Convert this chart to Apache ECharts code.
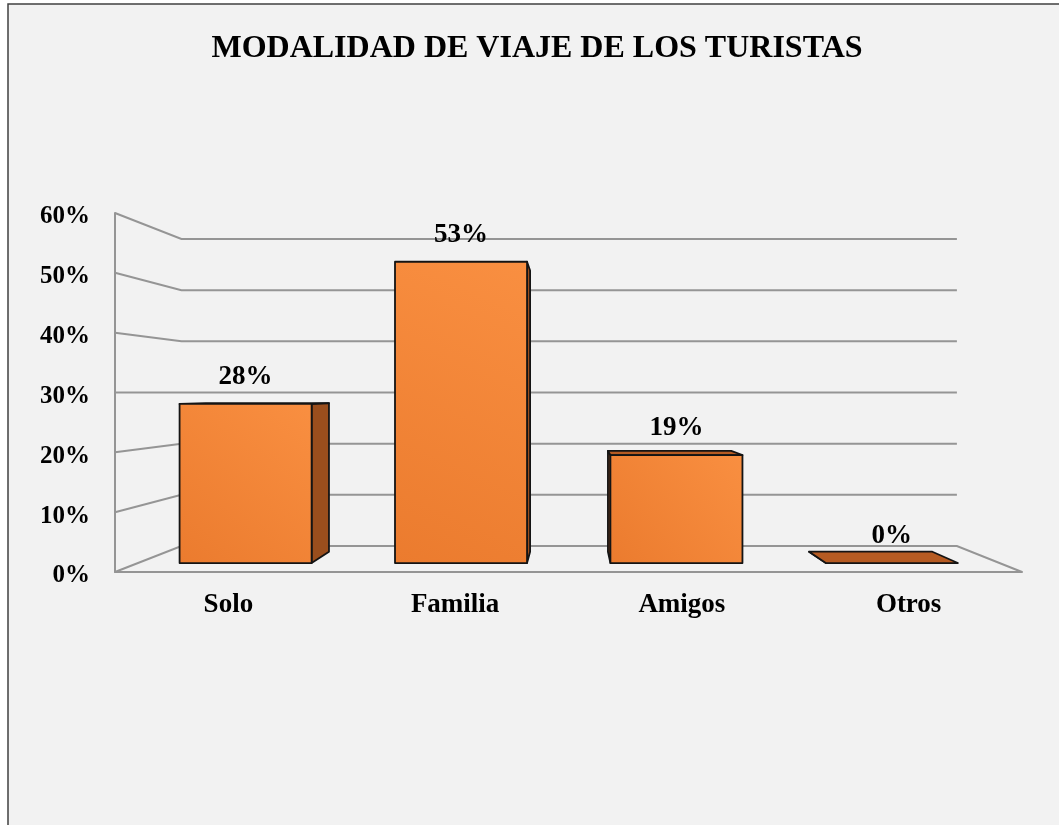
<!DOCTYPE html>
<html>
<head>
<meta charset="utf-8">
<title>Modalidad de viaje de los turistas</title>
<script src="https://cdn.jsdelivr.net/npm/echarts@6/dist/echarts.min.js"></script>
<style>
	html, body { margin: 0; padding: 0; background: #ffffff; }
	#chart { width: 1059px; height: 825px; }
</style>
</head>
<body>
<div id="chart"></div>
<script>
// datos del grafico
var categories = ['Solo', 'Familia', 'Amigos', 'Otros'];
var shares = [28, 53, 19, 0];          // porcentaje de turistas
var axisTicks = [0, 10, 20, 30, 40, 50, 60];

// perspectiva: plano frontal = grid, el resto se proyecta hacia el punto de fuga
var EYE_LEVEL = 30;      // valor del eje a la altura del ojo
var VANISH_X = 0.505;    // posicion horizontal del punto de fuga (fraccion del grid)
var K_WALL = 0.855;      // profundidad de la pared del fondo
var K_BAR_FRONT = 0.95;  // cara frontal de las barras
var K_BAR_BACK = 0.887;  // cara trasera de las barras
var BAR_RATIO = 0.613;   // ancho de barra respecto a la categoria

var FONT = '"Liberation Serif", "Times New Roman", serif';
var LINE_COLOR = '#959595';

var chart = echarts.init(document.getElementById('chart'));

function vanishing(params, api) {
	var cs = params.coordSys;
	return [cs.x + cs.width * VANISH_X, api.coord([0, EYE_LEVEL])[1]];
}

function project(p, k, vp) {
	return [vp[0] + k * (p[0] - vp[0]), vp[1] + k * (p[1] - vp[1])];
}

// lineas de las paredes (izquierda, fondo y piso)
function renderWalls(params, api) {
	var cs = params.coordSys;
	var vp = vanishing(params, api);
	var v = api.value(0);
	var y = api.coord([0, v])[1];
	var frontLeft = [cs.x, y];
	var backLeft = project(frontLeft, K_WALL, vp);
	var backRight = project([cs.x + cs.width, y], K_WALL, vp);
	var pts = [frontLeft, backLeft, backRight];
	if (v === 0) {
		pts.push([cs.x + cs.width, y]);
	}
	return {
		type: 'polyline',
		shape: { points: pts },
		style: { stroke: LINE_COLOR, lineWidth: 2, fill: null }
	};
}

// barras 3D con perspectiva
function renderBars(params, api) {
	var vp = vanishing(params, api);
	var idx = api.value(0);
	var val = api.value(1);
	var cx = api.coord([idx, 0])[0];
	var base = api.coord([idx, 0])[1];
	var top = api.coord([idx, val])[1];
	var w = api.size([1, 0])[0] * BAR_RATIO;
	var l = cx - w / 2, r = cx + w / 2;

	var fTL = project([l, top], K_BAR_FRONT, vp);
	var fTR = project([r, top], K_BAR_FRONT, vp);
	var fBR = project([r, base], K_BAR_FRONT, vp);
	var fBL = project([l, base], K_BAR_FRONT, vp);
	var bTL = project([l, top], K_BAR_BACK, vp);
	var bTR = project([r, top], K_BAR_BACK, vp);
	var bBR = project([r, base], K_BAR_BACK, vp);
	var bBL = project([l, base], K_BAR_BACK, vp);

	var edge = { stroke: '#141414', lineWidth: 1.8, lineJoin: 'round' };
	var children = [];

	if (r < vp[0]) {
		children.push({ type: 'polygon', shape: { points: [fTR, bTR, bBR, fBR] },
			style: Object.assign({ fill: '#9a4e1d' }, edge) });
	} else if (l > vp[0]) {
		children.push({ type: 'polygon', shape: { points: [fTL, bTL, bBL, fBL] },
			style: Object.assign({ fill: '#9a4e1d' }, edge) });
	}
	if (fTL[1] > vp[1]) {
		children.push({ type: 'polygon', shape: { points: [fTL, fTR, bTR, bTL] },
			style: Object.assign({ fill: '#b65b22' }, edge) });
	}
	if (fBL[1] - fTL[1] > 0.5) {
		children.push({ type: 'polygon', shape: { points: [fTL, fTR, fBR, fBL] },
			style: Object.assign({
				fill: new echarts.graphic.LinearGradient(0, 1, 1, 0, [
					{ offset: 0, color: '#eb7b2e' },
					{ offset: 1, color: '#f98f41' }
				])
			}, edge) });
	}
	children.push({
		type: 'text',
		style: {
			x: (fTL[0] + fTR[0]) / 2,
			y: fTL[1] - 27,
			text: val + '%',
			fill: '#000',
			font: 'bold 27px ' + FONT,
			align: 'center',
			verticalAlign: 'middle'
		}
	});
	return { type: 'group', children: children };
}

var option = {
	backgroundColor: '#ffffff',
	animation: false,
	graphic: [{
		type: 'rect',
		z: -10,
		shape: { x: 8, y: 4, width: 1070, height: 840 },
		style: { fill: '#f2f2f2', stroke: '#404040', lineWidth: 1.5 }
	}],
	title: {
		text: 'MODALIDAD DE VIAJE DE LOS TURISTAS',
		left: 532,
		top: 28,
		textAlign: 'center',
		textStyle: { fontFamily: FONT, fontWeight: 'bold', fontSize: 32, color: '#000' }
	},
	grid: { left: 115, right: 37, top: 213, bottom: 253 },
	xAxis: {
		type: 'category',
		data: categories,
		axisTick: { show: false },
		axisLine: { show: true, lineStyle: { color: LINE_COLOR, width: 2 } },
		axisLabel: { color: '#000', fontFamily: FONT, fontWeight: 'bold', fontSize: 27, margin: 20 },
		splitLine: { show: false }
	},
	yAxis: {
		type: 'value',
		min: 0,
		max: 60,
		interval: 10,
		axisLine: { show: true, lineStyle: { color: LINE_COLOR, width: 2 } },
		axisTick: { show: false },
		splitLine: { show: false },
		axisLabel: { formatter: '{value}%', color: '#000', fontFamily: FONT, fontWeight: 'bold', fontSize: 25, margin: 25, lineHeight: 36, verticalAlign: 'top', padding: [-14, 0, 0, 0] }
	},
	series: [
		{
			name: 'paredes',
			type: 'custom',
			z: 1,
			silent: true,
			renderItem: renderWalls,
			data: axisTicks.map(function (t) { return [t]; }),
			encode: { y: 0 }
		},
		{
			name: 'turistas',
			type: 'custom',
			z: 5,
			renderItem: renderBars,
			data: shares.map(function (s, i) { return [i, s]; }),
			encode: { x: 0, y: 1 }
		}
	]
};

chart.setOption(option);
</script>
</body>
</html>
